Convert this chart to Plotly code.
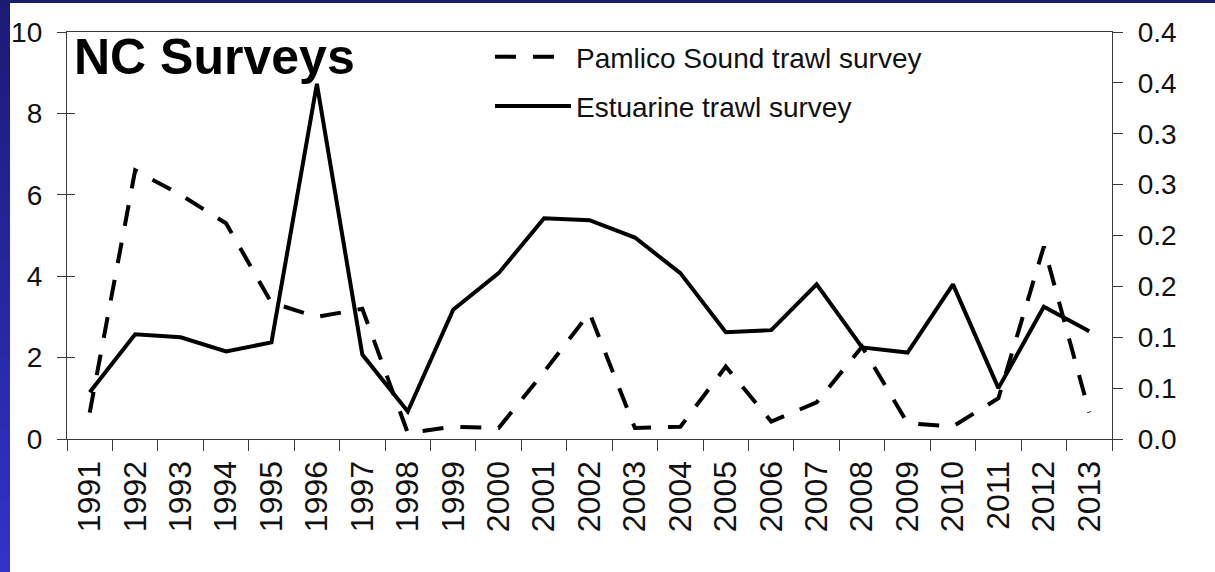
import plotly.graph_objects as go

# Survey years (category axis)
years = [str(y) for y in range(1991, 2014)]

# Pamlico Sound trawl survey index (left axis)
pamlico = [0.65, 6.6, 6.0, 5.3, 3.35, 3.0, 3.2, 0.15, 0.3, 0.27, 1.65, 3.1,
           0.27, 0.3, 1.78, 0.43, 0.9, 2.27, 0.39, 0.31, 1.0, 4.73, 0.65]

# Estuarine trawl survey index (right axis)
estuarine = [0.046, 0.103, 0.100, 0.086, 0.095, 0.349, 0.083, 0.027, 0.127,
             0.163, 0.217, 0.215, 0.198, 0.163, 0.105, 0.107, 0.152, 0.090,
             0.085, 0.152, 0.050, 0.130, 0.106]

left_ticks = [0, 2, 4, 6, 8, 10]
right_ticks = [0.0, 0.05, 0.10, 0.15, 0.20, 0.25, 0.30, 0.35, 0.40]
right_labels = ["0.0", "0.1", "0.1", "0.2", "0.2", "0.3", "0.3", "0.4", "0.4"]

W, H = 1215, 572
ML, MR, MT, MB = 67, 103, 32, 133
PW, PH = W - ML - MR, H - MT - MB

FONT = "Liberation Sans, Arial, sans-serif"
AXIS_COLOR = "#3a3a3a"


def px_x(px):
    return (px - ML) / PW


def px_y(py):
    return (H - MB - py) / PH


fig = go.Figure()

fig.add_trace(go.Scatter(
    x=years, y=pamlico, name="Pamlico Sound trawl survey", mode="lines",
    line=dict(color="black", width=4, dash="21px,17px"),
    legendgroup="a", yaxis="y",
))
fig.add_trace(go.Scatter(
    x=years, y=estuarine, name="Estuarine trawl survey", mode="lines",
    line=dict(color="black", width=4),
    legendgroup="b", yaxis="y2",
))
# transparent copy that carries the inner half of the left-axis ticks
fig.add_trace(go.Scatter(
    x=years, y=pamlico, mode="lines", line=dict(color="rgba(0,0,0,0)"),
    showlegend=False, hoverinfo="skip", yaxis="y3",
))

# slide-style border: gradient stripe on the left, dark band on top
shapes = []
n = 24
for i in range(n):
    t = i / (n - 1)
    r = int(0x1c + (0x32 - 0x1c) * t)
    g = int(0x1c + (0x32 - 0x1c) * t)
    b = int(0x78 + (0xc8 - 0x78) * t)
    y_top = H * i / n
    y_bot = H * (i + 1) / n + 1
    shapes.append(dict(
        type="rect", xref="paper", yref="paper", layer="above",
        x0=px_x(0), x1=px_x(10), y0=px_y(y_bot), y1=px_y(y_top),
        fillcolor=f"rgb({r},{g},{b})", line=dict(width=0),
    ))
shapes.append(dict(
    type="rect", xref="paper", yref="paper", layer="above",
    x0=px_x(0), x1=px_x(W), y0=px_y(3), y1=px_y(0),
    fillcolor="#1b1b70", line=dict(width=0),
))

fig.update_layout(
    width=W, height=H, autosize=False,
    margin=dict(l=ML, r=MR, t=MT, b=MB, pad=0),
    paper_bgcolor="white", plot_bgcolor="white",
    font=dict(family=FONT, color="#111", size=27),
    showlegend=True,
    legend=dict(
        x=px_x(490), y=px_y(32), xanchor="left", yanchor="top",
        bgcolor="rgba(0,0,0,0)", font=dict(size=28, family=FONT),
        itemwidth=76, tracegroupgap=10,
    ),
    xaxis=dict(
        type="category", range=[-0.5, len(years) - 0.5],
        tickson="boundaries", ticks="outside", ticklen=11,
        tickwidth=1.3, tickcolor=AXIS_COLOR, showline=True, linecolor=AXIS_COLOR,
        linewidth=1.3, mirror=True, showgrid=False, tickangle=-90,
        tickfont=dict(size=32, family=FONT), zeroline=False,
        ticklabelstandoff=8,
    ),
    yaxis=dict(
        range=[0, 10], tickvals=left_ticks, ticks="outside", ticklen=9,
        tickwidth=1.3, tickcolor=AXIS_COLOR, showline=True, linecolor=AXIS_COLOR,
        linewidth=1.3, showgrid=False, zeroline=False,
        tickfont=dict(size=28, family=FONT), ticklabelstandoff=9,
    ),
    yaxis3=dict(
        range=[0, 10], tickvals=left_ticks, ticks="inside", ticklen=8,
        tickwidth=1.3, tickcolor=AXIS_COLOR, overlaying="y", side="left",
        showticklabels=False, showline=False, showgrid=False, zeroline=False,
    ),
    yaxis2=dict(
        range=[0, 0.4], tickvals=right_ticks, ticktext=right_labels,
        overlaying="y", side="right", ticks="outside", ticklen=10,
        tickwidth=1.3, tickcolor=AXIS_COLOR, showline=True, linecolor=AXIS_COLOR,
        linewidth=1.3, showgrid=False, zeroline=False,
        tickfont=dict(size=28, family=FONT), ticklabelstandoff=9,
    ),
    shapes=shapes,
    annotations=[dict(
        text="<b>NC Surveys</b>", xref="paper", yref="paper",
        x=px_x(72), y=px_y(27), xanchor="left", yanchor="top",
        showarrow=False, font=dict(size=50, family=FONT, color="black"),
    )],
)

fig.write_html("out.html")
